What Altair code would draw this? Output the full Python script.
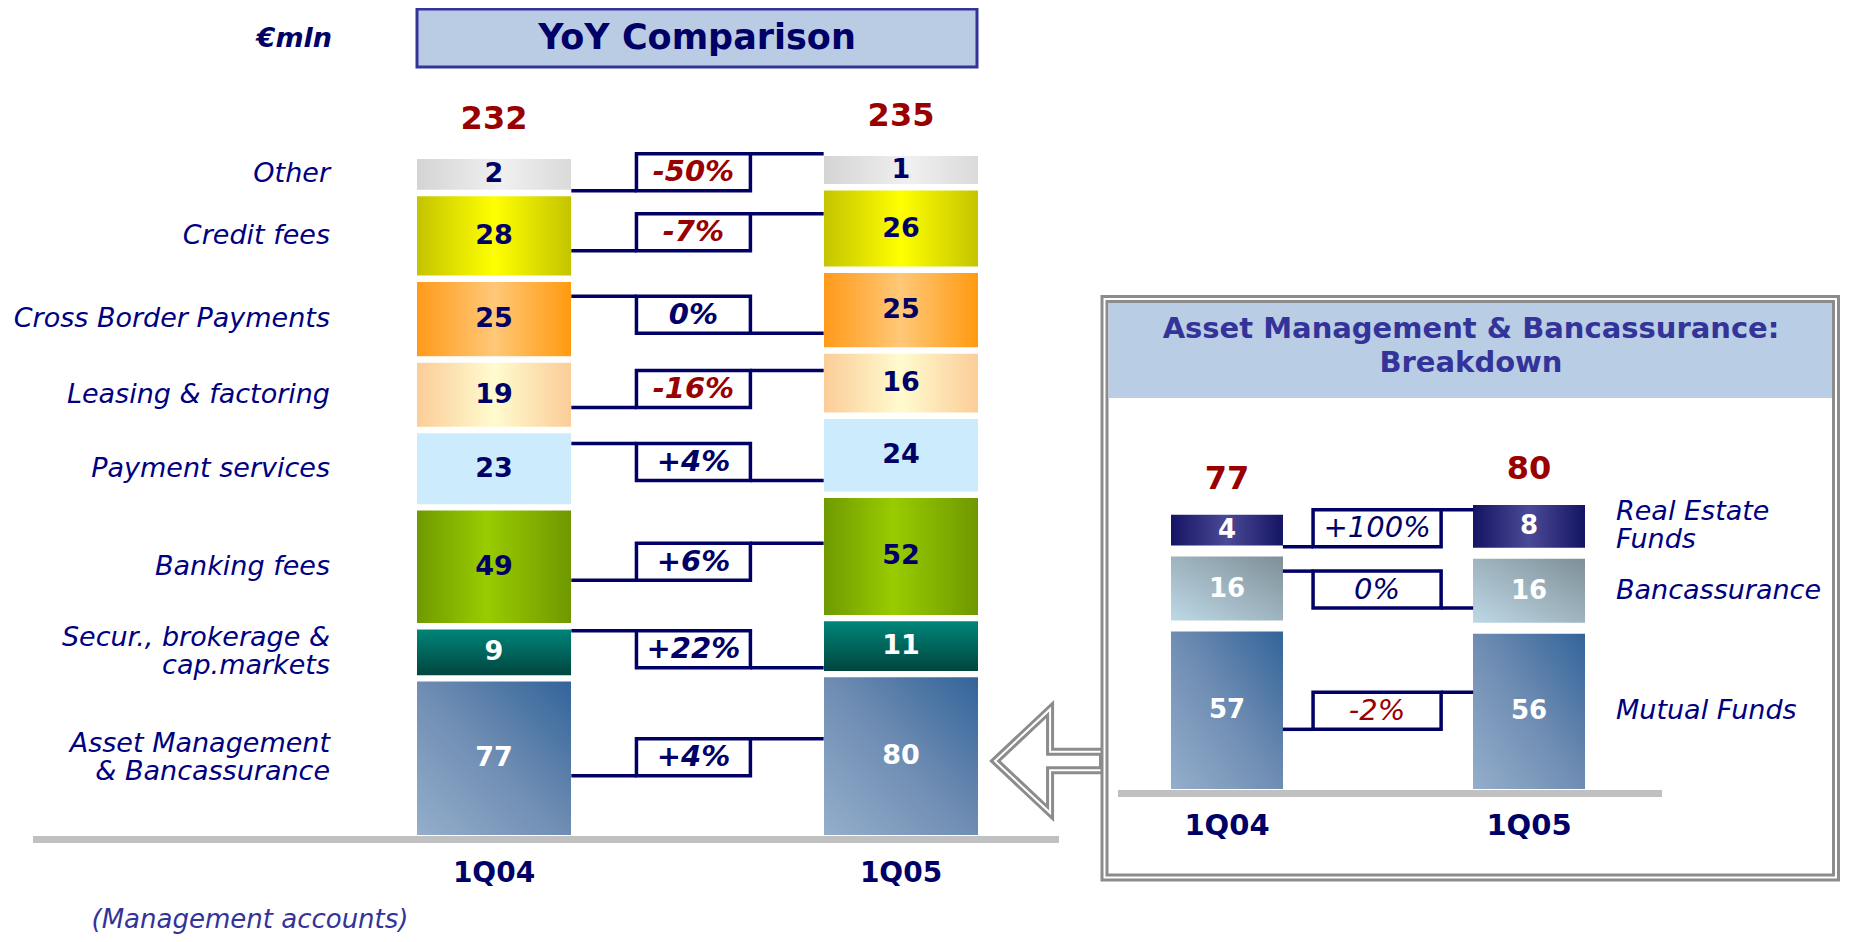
import altair as alt
import pandas as pd

# ---------------- data ----------------
periods = ["1Q04", "1Q05"]
categories = ["Other", "Credit fees", "Cross Border Payments", "Leasing & factoring",
              "Payment services", "Banking fees", "Secur., brokerage &\ncap.markets",
              "Asset Management\n& Bancassurance"]
values_1q04 = [2, 28, 25, 19, 23, 49, 9, 77]
values_1q05 = [1, 26, 25, 16, 24, 52, 11, 80]
changes = ["-50%", "-7%", "0%", "-16%", "+4%", "+6%", "+22%", "+4%"]
totals = [232, 235]

bd_categories = ["Real Estate\nFunds", "Bancassurance", "Mutual Funds"]
bd_1q04 = [4, 16, 57]
bd_1q05 = [8, 16, 56]
bd_changes = ["+100%", "0%", "-2%"]
bd_totals = [77, 80]

# ---------------- styles ----------------
FONT = "DejaVu Sans"
NAVY = "#000066"
LABEL = "#000080"
BLUE = "#333399"
RED = "#990000"
GRAY = "#8C8C8C"
BASE = "#C0C0C0"
HEAD = "#B9CCE4"

# connector step direction (True: line from first bar meets the top of the box)
left_at_top = [False, False, True, False, True, False, True, False]
bd_left_at_top = [False, True, False]


def hgrad(stops):
    return alt.Gradient(gradient="linear", x1=0, y1=0, x2=1, y2=0,
                        stops=[alt.GradientStop(color=c, offset=o) for o, c in stops])


def vgrad(stops):
    return alt.Gradient(gradient="linear", x1=0, y1=0, x2=0, y2=1,
                        stops=[alt.GradientStop(color=c, offset=o) for o, c in stops])


def dgrad(stops):
    return alt.Gradient(gradient="linear", x1=0, y1=1, x2=1, y2=0,
                        stops=[alt.GradientStop(color=c, offset=o) for o, c in stops])


AM_GRAD = dgrad([(0, "#94AECB"), (0.5, "#6F8DB3"), (1, "#33649A")])
fills = [
    hgrad([(0, "#D4D4D4"), (0.55, "#F0F0F0"), (1, "#DADADA")]),
    hgrad([(0, "#C4C400"), (0.5, "#FFFF00"), (1, "#C4C400")]),
    hgrad([(0, "#FF9A1A"), (0.5, "#FFC878"), (1, "#FF9A10")]),
    hgrad([(0, "#FBCD98"), (0.5, "#FFFBCF"), (1, "#FBCD98")]),
    hgrad([(0, "#CCEBFC"), (1, "#CCEBFC")]),
    hgrad([(0, "#6F9A00"), (0.45, "#99CC00"), (1, "#6F9800")]),
    vgrad([(0, "#008579"), (1, "#00463F")]),
    AM_GRAD,
]
bd_fills = [
    hgrad([(0, "#141464"), (0.5, "#4A4A96"), (1, "#141464")]),
    dgrad([(0, "#BED8E6"), (1, "#7E9098")]),
    AM_GRAD,
]


def build(cats, va, vb, chg, flip, a, b, p, gap, half_box):
    rows = []
    for pi, vals in enumerate([va, vb]):
        heights = [a + b * v ** p for v in vals]
        y = 0.0
        segs = [None] * len(vals)
        for i in reversed(range(len(vals))):
            segs[i] = (y, y + heights[i])
            y += heights[i] + gap
        for i, v in enumerate(vals):
            rows.append(dict(period=periods[pi], pidx=pi, cat=cats[i], cidx=i, value=v,
                             nl=cats[i].count("\n") + 1,
                             y0=segs[i][0], y1=segs[i][1],
                             ymid=(segs[i][0] + segs[i][1]) / 2))
    seg = pd.DataFrame(rows)
    tops = seg.groupby("pidx")["y1"].max()
    crow = []
    for i, c in enumerate(chg):
        ca = seg[(seg.pidx == 0) & (seg.cidx == i)].ymid.iloc[0]
        cb = seg[(seg.pidx == 1) & (seg.cidx == i)].ymid.iloc[0]
        mid = (ca + cb) / 2
        top, bot = mid + half_box, mid - half_box
        crow.append(dict(cidx=i, change=c, neg=c.startswith("-"), mid=mid, top=top, bot=bot,
                         yl=top if flip[i] else bot, yr=bot if flip[i] else top))
    conn = pd.DataFrame(crow)
    return seg, tops, conn


def panel(cats, va, vb, chg, tot, flip, grads, xs, ys, barw, half, box_l, box_r,
          a, b, p, gap, num_size, num_white, pct_size, pct_weight, total_dy, total_size,
          cat_x, cat_align, cat_from, cat_size, cat_lh, xlab_y, xlab_size):
    seg, tops, conn = build(cats, va, vb, chg, flip, a, b, p, gap, 18.5)
    X = lambda f: alt.X(f, scale=xs, axis=None)
    Y = lambda f: alt.Y(f, scale=ys, axis=None)
    layers = []
    for i in range(len(cats)):
        layers.append(
            alt.Chart(seg).transform_filter(f"datum.cidx == {i}")
            .mark_bar(size=barw, fill=grads[i])
            .encode(x=X("pidx:Q"), y=Y("y0:Q"), y2="y1:Q")
        )
    num_color = (alt.value("white") if num_white is True
                 else alt.condition(f"datum.cidx >= {num_white}", alt.value("white"), alt.value(NAVY)))
    layers.append(
        alt.Chart(seg).mark_text(font=FONT, fontSize=num_size, fontWeight="bold", baseline="middle")
        .encode(x=X("pidx:Q"), y=Y("ymid:Q"), text="value:Q", color=num_color)
    )
    tdf = pd.DataFrame({"pidx": [0, 1], "total": tot, "top": [tops[0], tops[1]]})
    layers.append(
        alt.Chart(tdf).mark_text(font=FONT, fontSize=total_size, fontWeight="bold", color=RED,
                                 baseline="middle", dy=total_dy)
        .encode(x=X("pidx:Q"), y=Y("top:Q"), text="total:Q")
    )
    # connectors
    cc = alt.Chart(conn).transform_calculate(
        xa=str(half), xb=str(box_l), xc=str(box_r), xd=str(1 - half), xm=str((box_l + box_r) / 2))
    layers.append(cc.mark_rule(color=NAVY, strokeWidth=3.5)
                  .encode(x=X("xa:Q"), x2="xb:Q", y=Y("yl:Q")))
    layers.append(cc.mark_rule(color=NAVY, strokeWidth=3.5)
                  .encode(x=X("xc:Q"), x2="xd:Q", y=Y("yr:Q")))
    layers.append(cc.mark_rect(fill="white", stroke=NAVY, strokeWidth=3.5)
                  .encode(x=X("xb:Q"), x2="xc:Q", y=Y("bot:Q"), y2="top:Q"))
    layers.append(cc.mark_text(font=FONT, fontSize=pct_size, fontStyle="italic", fontWeight=pct_weight,
                               baseline="middle")
                  .encode(x=X("xm:Q"), y=Y("mid:Q"), text="change:N",
                          color=alt.condition("datum.neg", alt.value(RED), alt.value(NAVY))))
    # category labels (multi-line ones shifted up so the block is centred)
    cl = seg[seg.pidx == cat_from]
    for nl in (1, 2):
        layers.append(
            alt.Chart(cl).transform_filter(f"datum.nl == {nl}")
            .mark_text(font=FONT, fontSize=cat_size, fontStyle="italic", color=LABEL,
                       align=cat_align, baseline="middle", lineBreak="\n", lineHeight=cat_lh,
                       dy=-(nl - 1) * cat_lh / 2)
            .encode(x=alt.value(cat_x), y=Y("ymid:Q"), text="cat:N")
        )
    # period labels
    pdf = pd.DataFrame({"pidx": [0, 1], "period": periods})
    layers.append(
        alt.Chart(pdf).mark_text(font=FONT, fontSize=xlab_size, fontWeight="bold", color=NAVY,
                                 baseline="middle")
        .encode(x=X("pidx:Q"), y=alt.value(xlab_y), text="period:N")
    )
    return alt.layer(*layers)


XL = alt.Scale(domain=[0, 1], range=[486, 893], nice=False, zero=False, padding=0)
YL = alt.Scale(domain=[0, 827], range=[827, 0], nice=False, zero=False, padding=0)
XR = alt.Scale(domain=[0, 1], range=[1219, 1521], nice=False, zero=False, padding=0)
YR = alt.Scale(domain=[0, 781], range=[781, 0], nice=False, zero=False, padding=0)

left = panel(categories, values_1q04, values_1q05, changes, totals, left_at_top, fills, XL, YL,
             barw=154, half=0.19, box_l=0.35, box_r=0.63, a=25, b=3.2, p=0.85, gap=6.4,
             num_size=27, num_white=6, pct_size=29, pct_weight="bold", total_dy=-40, total_size=32,
             cat_x=322, cat_align="right", cat_from=0, cat_size=27, cat_lh=28,
             xlab_y=866, xlab_size=28)
right = panel(bd_categories, bd_1q04, bd_1q05, bd_changes, bd_totals, bd_left_at_top, bd_fills, XR, YR,
              barw=112, half=0.185, box_l=0.285, box_r=0.709, a=16, b=4.55, p=0.85, gap=11,
              num_size=26, num_white=True, pct_size=29, pct_weight="normal", total_dy=-36, total_size=32,
              cat_x=1608, cat_align="left", cat_from=1, cat_size=27, cat_lh=28,
              xlab_y=818, xlab_size=29)

one = pd.DataFrame({"k": [0]})


def rect(x, x2, y, y2, **kw):
    return alt.Chart(one).mark_rect(**kw).encode(
        x=alt.value(x), x2=alt.value(x2), y=alt.value(y), y2=alt.value(y2))


def label(x, y, text, baseline="middle", **kw):
    return alt.Chart(one).mark_text(text=text, font=FONT, baseline=baseline, **kw).encode(
        x=alt.value(x), y=alt.value(y))


ARROW = "M -1 0 L 0.02 -0.96 L 0.02 -0.17 L 1 -0.17 L 1 0.17 L 0.02 0.17 L 0.02 0.96 Z"


def arrow(color, width):
    return alt.Chart(one).mark_point(shape=ARROW, size=11664, filled=False, stroke=color,
                                     strokeWidth=width, opacity=1, strokeJoin="miter").encode(
        x=alt.value(1041), y=alt.value(753))


deco = [
    rect(409, 969, 1, 59, fill=HEAD, stroke=BLUE, strokeWidth=3),
    label(689, 30, "YoY Comparison", fontSize=35, fontWeight="bold", color=NAVY),
    label(324, 31, "€mln", fontSize=27, fontWeight="bold", fontStyle="italic", color=NAVY, align="right"),
    rect(25, 1051, 828, 835, fill=BASE),
    label(242, 920, "(Management accounts)", baseline="alphabetic", fontSize=26, fontStyle="italic", color=BLUE),
    arrow(GRAY, 8),
    arrow("white", 2),
    rect(1096.5, 1828, 291, 869.5, fill="white", fillOpacity=0, stroke=GRAY, strokeWidth=8),
    rect(1096.5, 1828, 291, 869.5, fill="white", fillOpacity=0, stroke="white", strokeWidth=2),
    rect(1100.5, 1824, 295, 390, fill="#B9CDE5"),
    alt.Chart(one).mark_text(text="Asset Management & Bancassurance:\nBreakdown", lineBreak="\n",
                             lineHeight=34, font=FONT, fontSize=29, fontWeight="bold", color=BLUE,
                             baseline="middle").encode(x=alt.value(1463), y=alt.value(321)),
    rect(1110, 1654, 782, 789, fill=BASE),
]

chart = alt.layer(*deco, left, right).resolve_scale(x="independent", y="independent").properties(
    width=1833, height=926, padding=0, autosize=alt.AutoSizeParams(type="none")
).configure_view(stroke=None)

chart.save("out.html", embed_options={"renderer": "svg", "actions": False})
